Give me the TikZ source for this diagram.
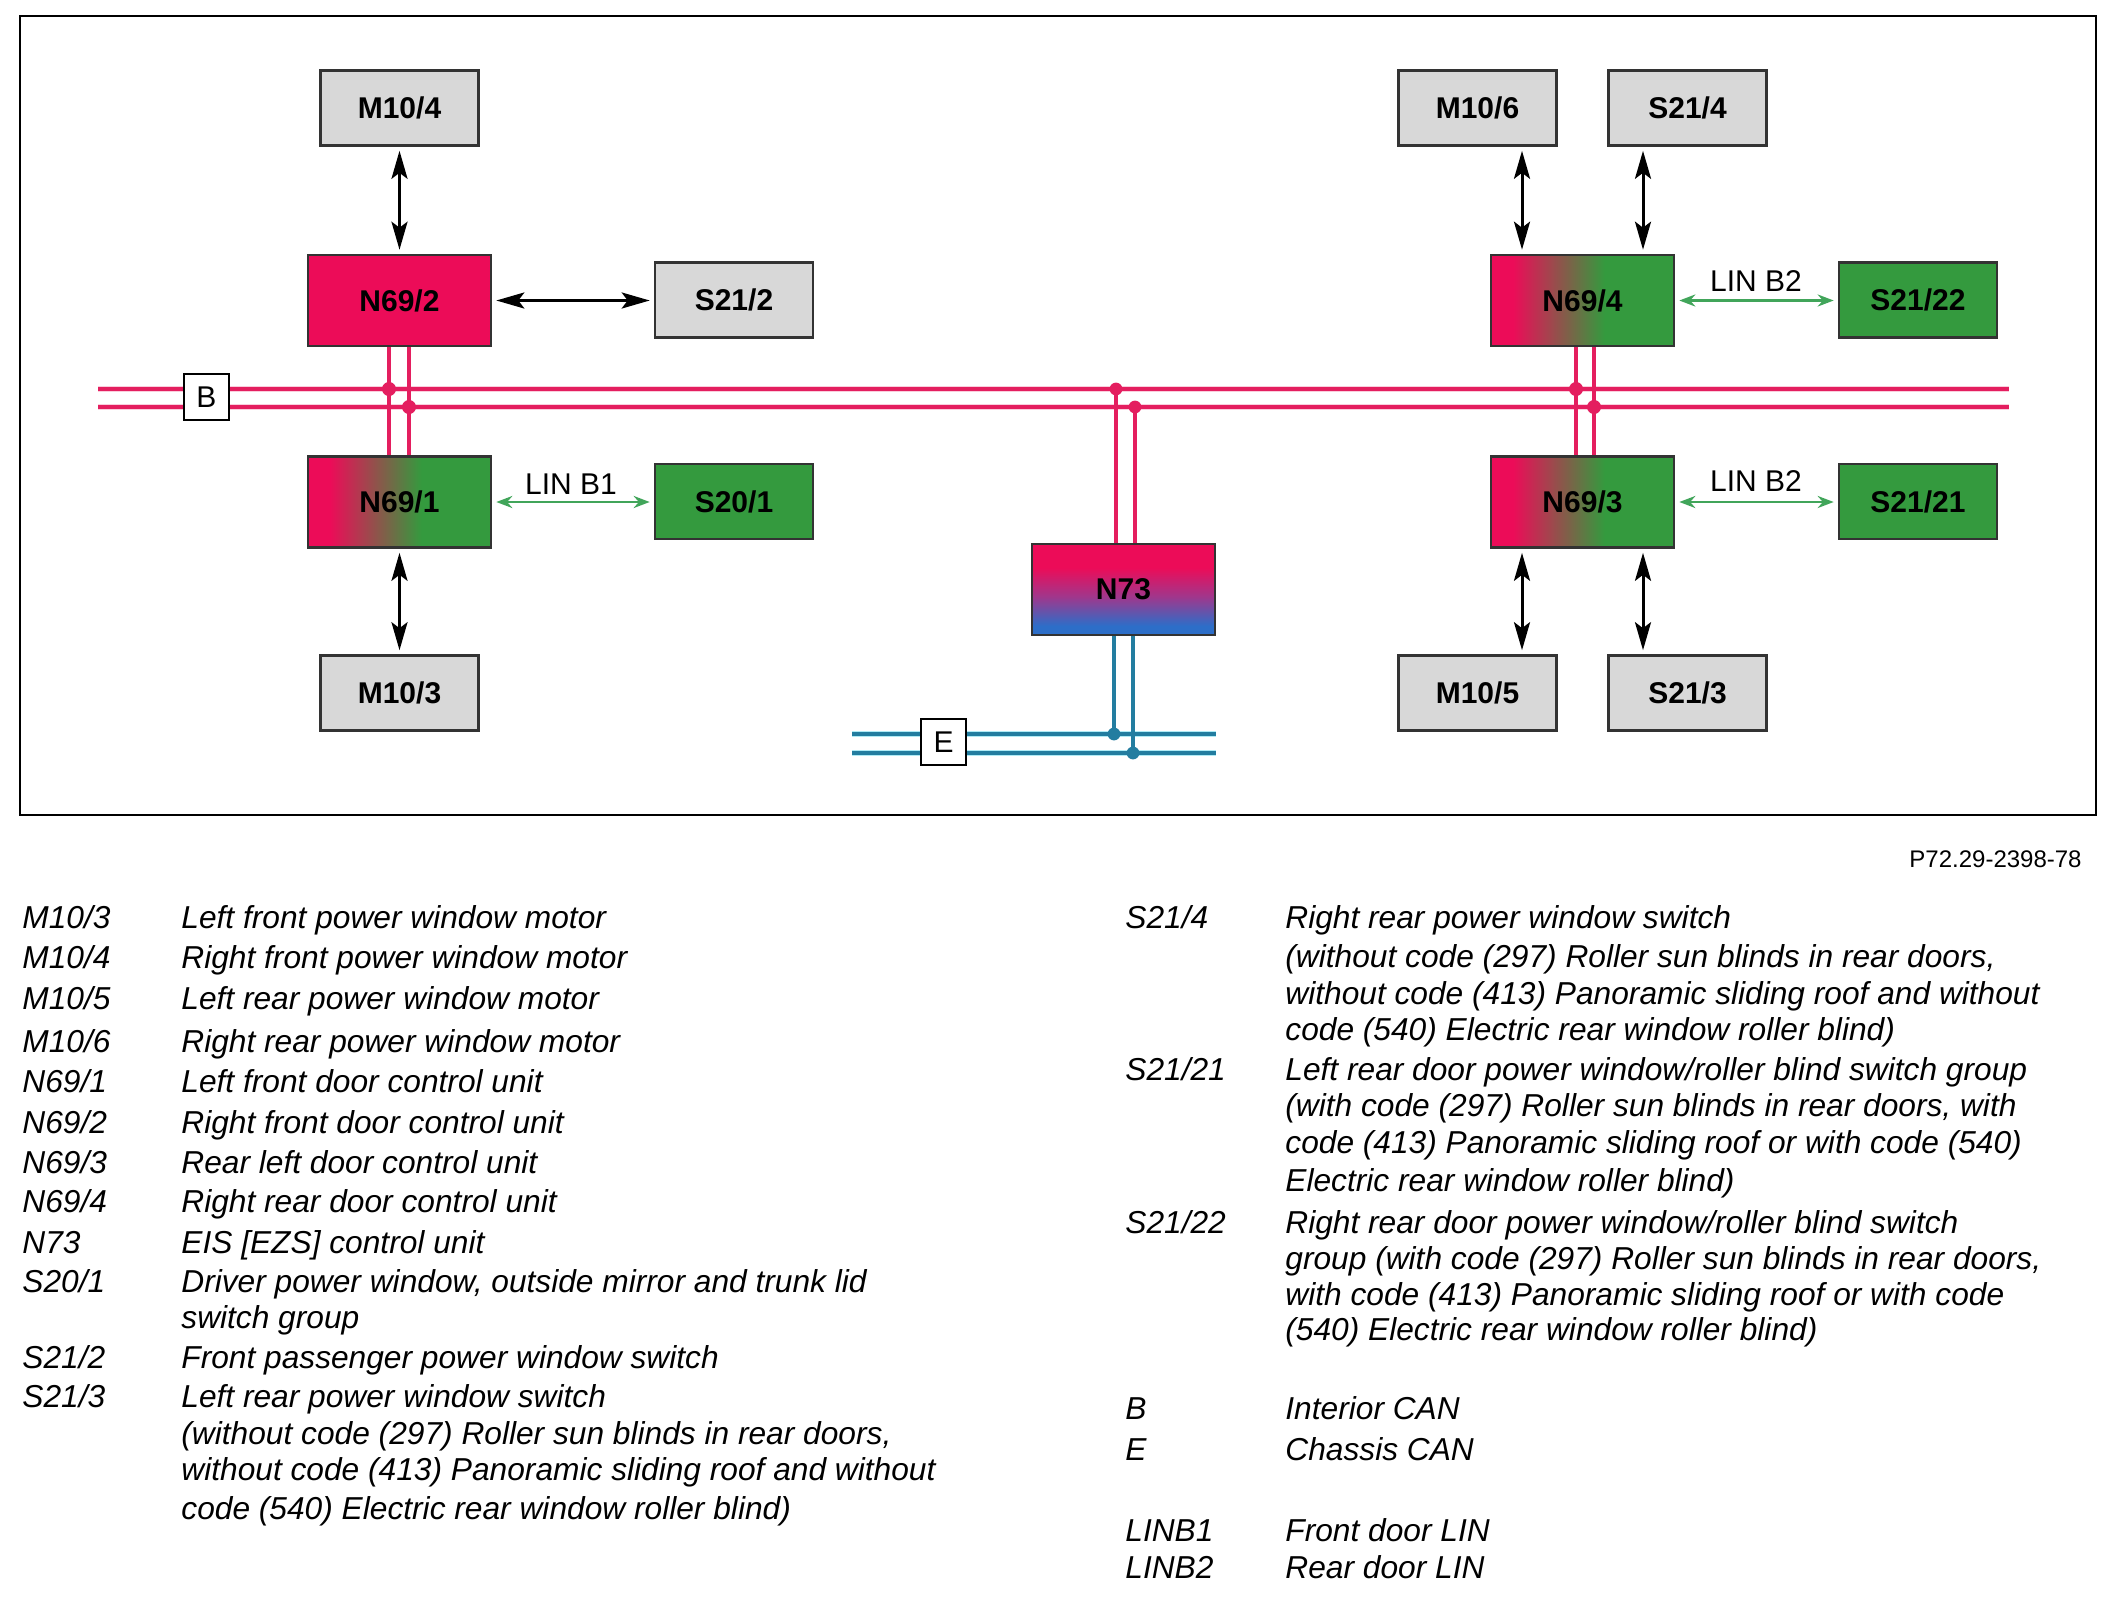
\documentclass[tikz,border=0pt]{standalone}
\usepackage{fontspec}
\setmainfont{Liberation Sans}
\usetikzlibrary{arrows.meta,calc}
\definecolor{cred}{RGB}{236,12,88}
\definecolor{cgreen}{RGB}{52,154,62}
\definecolor{cgray}{RGB}{216,216,216}
\definecolor{cblue}{RGB}{45,110,200}
\definecolor{cpurp}{RGB}{160,55,140}
\definecolor{cbus}{RGB}{228,30,95}
\definecolor{cbushalo}{RGB}{250,205,220}
\definecolor{ecan}{RGB}{35,125,160}
\definecolor{ecanhalo}{RGB}{175,235,245}
\definecolor{linc}{RGB}{65,165,90}
\pgfdeclarehorizontalshading{redgreen}{100bp}{color(0bp)=(cred); color(25bp)=(cred); color(31bp)=(cred); color(56bp)=(cgreen); color(100bp)=(cgreen)}
\pgfdeclareverticalshading{redblue}{100bp}{color(0bp)=(cblue); color(25bp)=(cblue); color(30bp)=(cblue); color(46bp)=(cpurp); color(62bp)=(cred); color(100bp)=(cred)}
\newcommand\legfont{\fontsize{15.85pt}{18pt}\selectfont\itshape}
\begin{document}
\begin{tikzpicture}[x=0.5pt,y=-0.5pt,
  box/.style={draw=black!80, line width=1.3pt, inner sep=0pt, font=\fontsize{15pt}{18pt}\selectfont\bfseries},
  gbox/.style={box, fill=cgray, minimum width=79pt, minimum height=37.5pt},
  swbox/.style={box, fill=cgreen, minimum width=79pt, minimum height=37.5pt},
  ecu/.style={box, minimum width=91.5pt, minimum height=45.5pt},
  redecu/.style={ecu, fill=cred},
  mixecu/.style={ecu, shade, shading=redgreen},
  eisecu/.style={ecu, shade, shading=redblue},
  arr/.style={{Stealth[length=14pt,width=8pt,inset=3pt]}-{Stealth[length=14pt,width=8pt,inset=3pt]}, line width=1.5pt, black, shorten <=2pt, shorten >=2pt},
  lin/.style={{Stealth[length=8pt,width=6pt]}-{Stealth[length=8pt,width=6pt]}, line width=1.4pt, linc, shorten <=2pt, shorten >=2pt},
  lbl/.style={font=\fontsize{15pt}{18pt}\selectfont, inner sep=0pt},
  buslbl/.style={draw=black, fill=white, line width=1pt, inner sep=0pt, minimum width=22.5pt, minimum height=23pt, font=\fontsize{15pt}{18pt}\selectfont},
  halo/.style={cbushalo, line width=3.4pt},
  bus/.style={cbus, line width=2pt},
  ehalo/.style={ecanhalo, line width=3.4pt},
  ebus/.style={ecan, line width=2pt},
  lg/.style={anchor=base west, inner sep=0pt, font=\legfont}
]
\useasboundingbox (0,0) rectangle (2116,1612);
\fill[white] (0,0) rectangle (2116,1612);
\draw[black, line width=1pt] (20,16) rectangle (2096,815);

% nodes
\node[gbox] (M104) at (399.5,108) {M10/4};
\node[redecu] (N692) at (399.5,300.5) {N69/2};
\node[gbox] (S212) at (734,300) {S21/2};
\node[mixecu] (N691) at (399.5,502) {N69/1};
\node[swbox] (S201) at (734,501.5) {S20/1};
\node[gbox] (M103) at (399.5,693) {M10/3};
\node[eisecu] (N73) at (1123.5,589.5) {N73};
\node[gbox] (M106) at (1477.5,108) {M10/6};
\node[gbox] (S214) at (1687.5,108) {S21/4};
\node[mixecu] (N694) at (1582.5,300.5) {N69/4};
\node[swbox] (S2122) at (1918,300) {S21/22};
\node[mixecu] (N693) at (1582.5,502) {N69/3};
\node[swbox] (S2121) at (1918,501.5) {S21/21};
\node[gbox] (M105) at (1477.5,693) {M10/5};
\node[gbox] (S213) at (1687.5,693) {S21/3};

% bus coordinates
\coordinate (B1w) at (98,389);
\coordinate (B1e) at (2009,389);
\coordinate (B2w) at (98,407);
\coordinate (B2e) at (2009,407);
\coordinate (E1w) at (852,734);
\coordinate (E1e) at (1216,734);
\coordinate (E2w) at (852,753);
\coordinate (E2e) at (1216,753);
\coordinate (xA) at (389,0);
\coordinate (xB) at (409,0);
\coordinate (xC) at (1116,0);
\coordinate (xD) at (1135,0);
\coordinate (xE) at (1114,0);
\coordinate (xF) at (1133,0);
\coordinate (xG) at (1576,0);
\coordinate (xH) at (1594,0);
\coordinate (xM) at (1522,0);
\coordinate (xS) at (1643,0);

% CAN B halos and lines
\draw[halo] (B1w) -- (B1e);
\draw[halo] (B2w) -- (B2e);
\draw[bus] (N692.south -| xA) -- (N691.north -| xA);
\draw[bus] (N692.south -| xB) -- (N691.north -| xB);
\draw[bus] (N694.south -| xG) -- (N693.north -| xG);
\draw[bus] (N694.south -| xH) -- (N693.north -| xH);
\draw[bus] (N73.north -| xC) -- (xC |- B1w);
\draw[bus] (N73.north -| xD) -- (xD |- B2w);
\draw[bus] (B1w) -- (B1e);
\draw[bus] (B2w) -- (B2e);
\fill[cbus] (xA |- B1w) circle[radius=3.5pt];
\fill[cbus] (xB |- B2w) circle[radius=3.5pt];
\fill[cbus] (xC |- B1w) circle[radius=3.2pt];
\fill[cbus] (xD |- B2w) circle[radius=3.2pt];
\fill[cbus] (xG |- B1w) circle[radius=3.5pt];
\fill[cbus] (xH |- B2w) circle[radius=3.5pt];
\node[buslbl] (Blbl) at (206.5,397) {B};

% CAN E
\draw[ehalo] (E1w) -- (E1e);
\draw[ehalo] (E2w) -- (E2e);
\draw[ebus] (E1w) -- (E1e);
\draw[ebus] (E2w) -- (E2e);
\draw[ebus] (N73.south -| xE) -- (xE |- E1w);
\draw[ebus] (N73.south -| xF) -- (xF |- E2w);
\fill[ecan] (xE |- E1w) circle[radius=3.2pt];
\fill[ecan] (xF |- E2w) circle[radius=3.2pt];
\node[buslbl] (Elbl) at (943.5,742) {E};

% arrows
\draw[arr] (M104.south) -- (N692.north);
\draw[arr] (N692.east) -- (N692.east -| S212.west);
\draw[arr] (N691.south) -- (M103.north);
\draw[lin] (N691.east) -- (N691.east -| S201.west);
\node[lbl] (linb1) at (571,484) {LIN B1};
\draw[arr] (M106.south -| xM) -- (N694.north -| xM);
\draw[arr] (S214.south -| xS) -- (N694.north -| xS);
\draw[arr] (N693.south -| xM) -- (M105.north -| xM);
\draw[arr] (N693.south -| xS) -- (S213.north -| xS);
\draw[lin] (N694.east) -- (N694.east -| S2122.west);
\node[lbl] (linb2a) at (1756,281) {LIN B2};
\draw[lin] (N693.east) -- (N693.east -| S2121.west);
\node[lbl] (linb2b) at (1756,481) {LIN B2};

% caption
\node[anchor=east, inner sep=0pt, font=\fontsize{12pt}{14pt}\selectfont] (cap) at (2082,859) {P72.29-2398-78};

% legend left
\node[lg] (a1) at (22,928) {M10/3};  \node[lg] (d1) at (181,928) {Left front power window motor};
\node[lg] (a2) at (22,968) {M10/4};  \node[lg] (d2) at (181,968) {Right front power window motor};
\node[lg] (a3) at (22,1009) {M10/5}; \node[lg] (d3) at (181,1009) {Left rear power window motor};
\node[lg] (a4) at (22,1052) {M10/6}; \node[lg] (d4) at (181,1052) {Right rear power window motor};
\node[lg] (a5) at (22,1092) {N69/1}; \node[lg] (d5) at (181,1092) {Left front door control unit};
\node[lg] (a6) at (22,1133) {N69/2}; \node[lg] (d6) at (181,1133) {Right front door control unit};
\node[lg] (a7) at (22,1173) {N69/3}; \node[lg] (d7) at (181,1173) {Rear left door control unit};
\node[lg] (a8) at (22,1212) {N69/4}; \node[lg] (d8) at (181,1212) {Right rear door control unit};
\node[lg] (a9) at (22,1253) {N73};   \node[lg] (d9) at (181,1253) {EIS [EZS] control unit};
\node[lg] (a10) at (22,1292) {S20/1}; \node[lg] (d10) at (181,1292) {Driver power window, outside mirror and trunk lid};
\node[lg] (d10b) at (181,1328) {switch group};
\node[lg] (a11) at (22,1368) {S21/2}; \node[lg] (d11) at (181,1368) {Front passenger power window switch};
\node[lg] (a12) at (22,1407) {S21/3}; \node[lg] (d12) at (181,1407) {Left rear power window switch};
\node[lg] (d12b) at (181,1444) {(without code (297) Roller sun blinds in rear doors,};
\node[lg] (d12c) at (181,1480) {without code (413) Panoramic sliding roof and without};
\node[lg] (d12d) at (181,1519) {code (540) Electric rear window roller blind)};

% legend right
\node[lg] (b1) at (1125,928) {S21/4}; \node[lg] (e1) at (1285,928) {Right rear power window switch};
\node[lg] (e1b) at (1285,967) {(without code (297) Roller sun blinds in rear doors,};
\node[lg] (e1c) at (1285,1004) {without code (413) Panoramic sliding roof and without};
\node[lg] (e1d) at (1285,1040) {code (540) Electric rear window roller blind)};
\node[lg] (b2) at (1125,1080) {S21/21}; \node[lg] (e2) at (1285,1080) {Left rear door power window/roller blind switch group};
\node[lg] (e2b) at (1285,1116) {(with code (297) Roller sun blinds in rear doors, with};
\node[lg] (e2c) at (1285,1153) {code (413) Panoramic sliding roof or with code (540)};
\node[lg] (e2d) at (1285,1191) {Electric rear window roller blind)};
\node[lg] (b3) at (1125,1233) {S21/22}; \node[lg] (e3) at (1285,1233) {Right rear door power window/roller blind switch};
\node[lg] (e3b) at (1285,1269) {group (with code (297) Roller sun blinds in rear doors,};
\node[lg] (e3c) at (1285,1305) {with code (413) Panoramic sliding roof or with code};
\node[lg] (e3d) at (1285,1340) {(540) Electric rear window roller blind)};
\node[lg] (b4) at (1125,1419) {B};     \node[lg] (e4) at (1285,1419) {Interior CAN};
\node[lg] (b5) at (1125,1460) {E};     \node[lg] (e5) at (1285,1460) {Chassis CAN};
\node[lg] (b6) at (1125,1541) {LINB1}; \node[lg] (e6) at (1285,1541) {Front door LIN};
\node[lg] (b7) at (1125,1578) {LINB2}; \node[lg] (e7) at (1285,1578) {Rear door LIN};
\end{tikzpicture}
\end{document}
